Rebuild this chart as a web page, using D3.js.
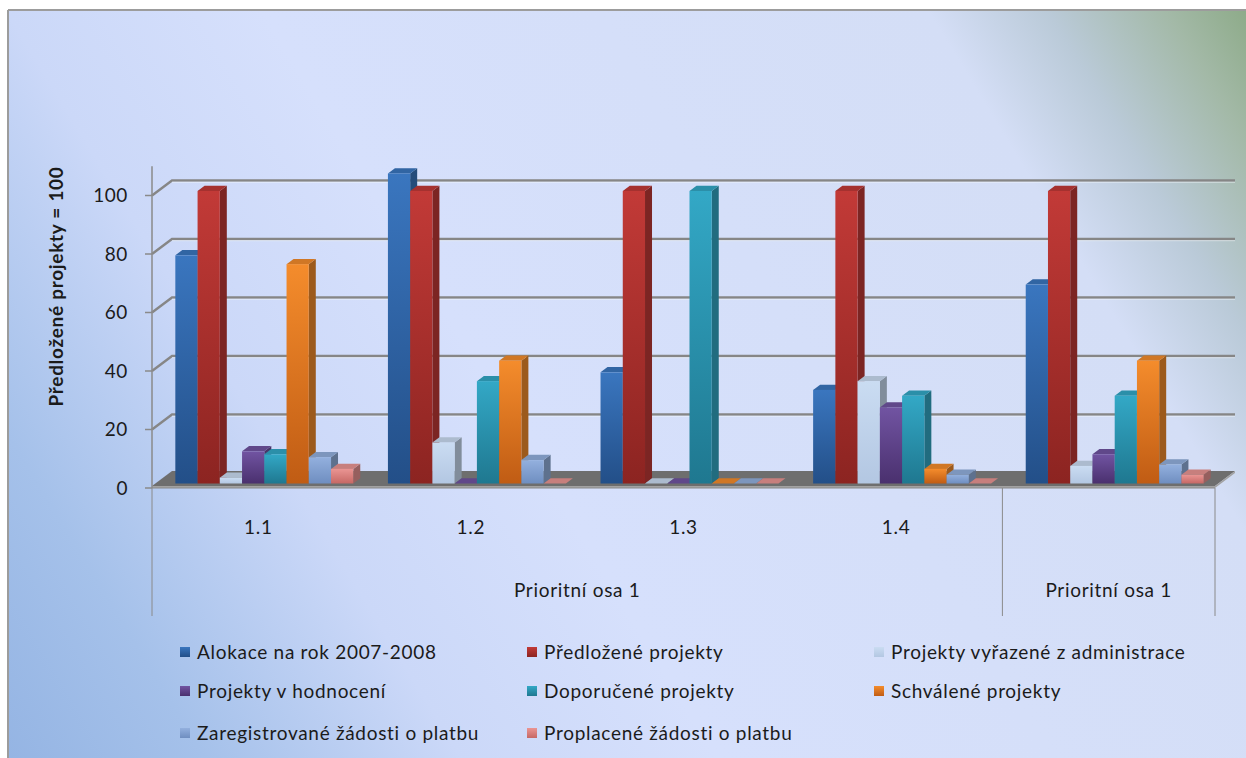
<!DOCTYPE html>
<html>
<head>
<meta charset="utf-8">
<script src="https://cdn.jsdelivr.net/npm/d3@7"></script>
<style>
  html, body { margin: 0; padding: 0; background: #ffffff; }
  svg { display: block; }
  text { font-family: Lato, "Liberation Sans", sans-serif; fill: #1b1b1b; }
</style>
</head>
<body>
<svg id="chart" width="1246" height="758"></svg>
<script>
// ---- data ----
const categories = ["1.1", "1.2", "1.3", "1.4", "5"];
const categoryLabels = ["1.1", "1.2", "1.3", "1.4", ""];
const groupNames = ["Prioritní osa 1", "Prioritní osa 1"];
const groupSizes = [4, 1];
const seriesNames = [
  "Alokace na rok 2007-2008",
  "Předložené projekty",
  "Projekty vyřazené z administrace",
  "Projekty v hodnocení",
  "Doporučené projekty",
  "Schválené projekty",
  "Zaregistrované žádosti o platbu",
  "Proplacené žádosti o platbu"
];
const alokace        = [78, 106, 38, 32, 68];
const predlozene     = [100, 100, 100, 100, 100];
const vyrazene       = [2, 14, 0, 35, 6];
const hodnoceni      = [11, 0, 0, 26, 10];
const doporucene     = [10, 35, 100, 30, 30];
const schvalene      = [75, 42, 0, 5, 42];
const zaregistrovane = [9, 8, 0, 3, 6.5];
const proplacene     = [5, 0, 0, 0, 3];
const seriesValues = [alokace, predlozene, vyrazene, hodnoceni, doporucene, schvalene, zaregistrovane, proplacene];
const yTicks = [0, 20, 40, 60, 80, 100];
const yTitle = "Předložené projekty = 100";

// series colours: [front top, front bottom]
const seriesColors = [
  ["#3a76bf", "#234f88"],
  ["#c23a37", "#8c2421"],
  ["#cadcf2", "#b3c7e2"],
  ["#7154a2", "#4a306e"],
  ["#33a8c6", "#1f7890"],
  ["#f48c2c", "#c05c14"],
  ["#93b0de", "#6f8ec0"],
  ["#ea9593", "#c66865"]
];

// ---- layout ----
const svg = d3.select("#chart");
const W = 1246, H = 758;
const plotLeft = 152, plotRight = 1215, baseY = 488;
const wallDx = 20, wallDy = -15;          // full depth of the 3-D floor/walls
const barFrontD = 0.3, barBackD = 0.65;   // bar position within the depth

const y = d3.scaleLinear().domain([0, 110]).range([baseY, baseY - 110 * 2.925]);
const x0 = d3.scaleBand().domain(categories).range([plotLeft, plotRight]).paddingInner(0).paddingOuter(0);
const gap = x0.bandwidth() * 0.0815;
const x1 = d3.scaleBand().domain(seriesNames).range([gap, x0.bandwidth() - gap]);

const defs = svg.append("defs");

// background
const bg = defs.append("linearGradient").attr("id", "bg")
  .attr("gradientUnits", "userSpaceOnUse")
  .attr("x1", 0).attr("y1", H).attr("x2", W).attr("y2", 0);
[[0, "#94b4e3"], [0.12, "#a5c1ea"], [0.27, "#cbd8f8"], [0.42, "#d6e0fc"], [0.81, "#d4def6"],
 [0.88, "#bacad8"], [0.95, "#a3b9a7"], [1, "#8caa87"]]
  .forEach(([o, c]) => bg.append("stop").attr("offset", o).attr("stop-color", c));

seriesColors.forEach((c, i) => {
  const g = defs.append("linearGradient").attr("id", "s" + i)
    .attr("x1", 0).attr("y1", 0).attr("x2", 0).attr("y2", 1);
  g.append("stop").attr("offset", 0).attr("stop-color", c[0]);
  g.append("stop").attr("offset", 1).attr("stop-color", c[1]);
});

svg.append("rect").attr("x", 0).attr("y", 0).attr("width", W).attr("height", H).attr("fill", "#ffffff");
svg.append("rect").attr("x", 8).attr("y", 10).attr("width", W).attr("height", H)
  .attr("fill", "url(#bg)");
svg.append("line").attr("x1", 8).attr("y1", 10).attr("x2", W).attr("y2", 10)
  .attr("stroke", "#9c9c9c").attr("stroke-width", 2);
svg.append("line").attr("x1", 8).attr("y1", 10).attr("x2", 8).attr("y2", H)
  .attr("stroke", "#9c9c9c").attr("stroke-width", 2);

// ---- walls: gridlines on side and back wall ----
const grid = svg.append("g");
yTicks.filter(t => t > 0).forEach(t => {
  const yy = y(t);
  grid.append("path")
    .attr("d", `M${plotLeft},${yy}L${plotLeft + wallDx},${yy + wallDy}L${plotRight + wallDx},${yy + wallDy}`)
    .attr("fill", "none").attr("stroke", "#868686").attr("stroke-width", 2.4);
  grid.append("path")
    .attr("d", `M${plotLeft + wallDx},${yy + wallDy + 1.7}L${plotRight + wallDx},${yy + wallDy + 1.7}`)
    .attr("fill", "none").attr("stroke", "#f4f6fb").attr("stroke-opacity", 0.6).attr("stroke-width", 1);
});

// floor
svg.append("path")
  .attr("d", `M${plotLeft},${baseY - 2}L${plotLeft + wallDx},${baseY - 2 + wallDy}L${plotRight + wallDx},${baseY - 2 + wallDy}L${plotRight},${baseY - 2}Z`)
  .attr("fill", "#6e6e6e");
svg.append("path")
  .attr("d", `M${plotLeft},${baseY - 2}L${plotRight},${baseY - 2}L${plotRight + wallDx},${baseY - 2 + wallDy}L${plotRight + wallDx},${baseY + wallDy}L${plotRight},${baseY}L${plotLeft},${baseY}Z`)
  .attr("fill", "#a2a2a2");

// ---- bars ----
const bars = svg.append("g");
const fdx = wallDx * barFrontD, fdy = wallDy * barFrontD;
const ddx = wallDx * (barBackD - barFrontD), ddy = wallDy * (barBackD - barFrontD);
categories.forEach((cat, ci) => {
  seriesNames.forEach((s, si) => {
    const v = seriesValues[si][ci];
    const xl = x0(cat) + x1(s) + fdx;
    const xr = xl + x1.bandwidth();
    const yb = y(0) + fdy;
    const yt = y(v) + fdy;
    const base = d3.color(seriesColors[si][0]);
    // right side face
    bars.append("path")
      .attr("d", `M${xr},${yt}L${xr + ddx},${yt + ddy}L${xr + ddx},${yb + ddy}L${xr},${yb}Z`)
      .attr("fill", base.darker(1.25).formatHex());
    // top face
    bars.append("path")
      .attr("d", `M${xl},${yt}L${xl + ddx},${yt + ddy}L${xr + ddx},${yt + ddy}L${xr},${yt}Z`)
      .attr("fill", base.darker(0.45).formatHex());
    // front face
    if (v > 0) {
      bars.append("rect")
        .attr("x", xl).attr("y", yt).attr("width", x1.bandwidth()).attr("height", yb - yt)
        .attr("fill", `url(#s${si})`);
    }
  });
});

// ---- value axis ----
const axis = svg.append("g");
axis.append("line").attr("x1", plotLeft).attr("x2", plotLeft).attr("y1", y(110)).attr("y2", baseY)
  .attr("stroke", "#8a8a8a").attr("stroke-width", 1.5);
yTicks.forEach(t => {
  axis.append("line").attr("x1", plotLeft - 7).attr("x2", plotLeft).attr("y1", y(t)).attr("y2", y(t))
    .attr("stroke", "#8a8a8a").attr("stroke-width", 1.5);
  axis.append("text").attr("x", 128).attr("y", y(t)).attr("dy", "0.35em")
    .attr("text-anchor", "end").style("font-size", "19px").style("letter-spacing", "0.6px").text(t);
});
svg.append("text")
  .attr("transform", `translate(63,${(163 + 410) / 2}) rotate(-90)`)
  .attr("text-anchor", "middle").style("font-size", "19px").style("font-weight", "bold")
  .style("letter-spacing", "0.7px")
  .text(yTitle);

// ---- category axis (two levels) ----
const cat = svg.append("g");
cat.append("line").attr("x1", plotLeft).attr("x2", plotRight).attr("y1", baseY).attr("y2", baseY)
  .attr("stroke", "#8a8a8a").attr("stroke-width", 1);
categories.forEach((c, i) => {
  cat.append("text").attr("x", x0(c) + x0.bandwidth() / 2).attr("y", 527).attr("dy", "0.35em")
    .attr("text-anchor", "middle").style("font-size", "19px").style("letter-spacing", "0.7px")
    .text(categoryLabels[i]);
});
let start = 0;
const dividers = [plotLeft];
groupNames.forEach((g, gi) => {
  const a = x0(categories[start]);
  const b = x0(categories[start + groupSizes[gi] - 1]) + x0.bandwidth();
  cat.append("text").attr("x", (a + b) / 2).attr("y", 590).attr("dy", "0.35em")
    .attr("text-anchor", "middle").style("font-size", "19px").style("letter-spacing", "0.7px").text(g);
  dividers.push(b);
  start += groupSizes[gi];
});
dividers.forEach(xv => {
  cat.append("line").attr("x1", xv).attr("x2", xv).attr("y1", baseY).attr("y2", 616)
    .attr("stroke", "#8a8a8a").attr("stroke-width", 1);
});

// ---- legend ----
const legend = svg.append("g");
const colX = [180, 527, 874];
const rowY = [652, 691, 733];
seriesNames.forEach((s, i) => {
  const gx = colX[i % 3], gy = rowY[Math.floor(i / 3)];
  legend.append("rect").attr("x", gx).attr("y", gy - 5).attr("width", 10).attr("height", 10)
    .attr("fill", `url(#s${i})`);
  legend.append("text").attr("x", gx + 17).attr("y", gy).attr("dy", "0.35em")
    .style("font-size", "19px").style("letter-spacing", "0.7px").text(s);
});
</script>
</body>
</html>
